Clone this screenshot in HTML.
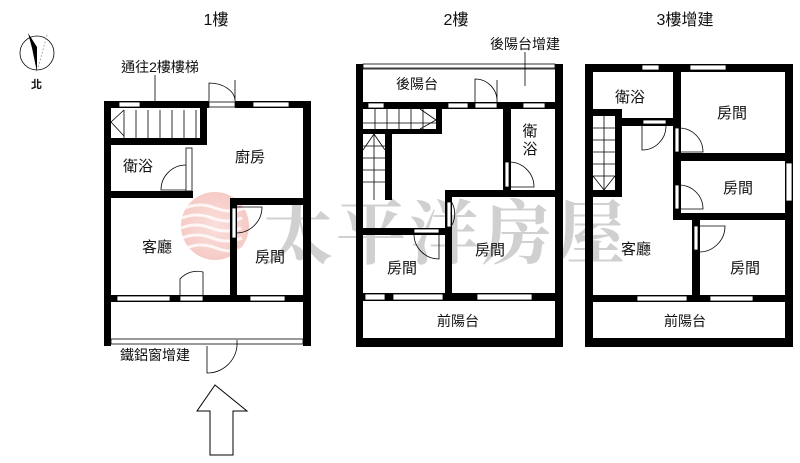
<!DOCTYPE html>
<html><head><meta charset="utf-8"><style>
html,body{margin:0;padding:0;background:#fff;}
svg{display:block}
text{font-family:"Liberation Sans","Noto Sans CJK TC",sans-serif;fill:#111;}
</style></head><body>
<svg width="800" height="463" viewBox="0 0 800 463" xmlns="http://www.w3.org/2000/svg">
<defs><radialGradient id="lg" cx="0.5" cy="0.5" r="0.5"><stop offset="0" stop-color="#f6c9c4"/><stop offset="1" stop-color="#f0a8a0"/></radialGradient></defs>
<circle cx="215" cy="226" r="34" fill="url(#lg)" opacity="0.6"/>
<g stroke="#fff" stroke-width="3" fill="none" opacity="0.8">
<path d="M185 208 q15 -6 30 0 t30 0"/><path d="M182 218 q15 -6 30 0 t30 0"/><path d="M181 228 q15 -6 30 0 t30 0"/><path d="M182 238 q15 -6 30 0 t30 0"/><path d="M186 248 q15 -6 30 0 t30 0"/>
</g>
<text x="263" y="258" font-size="70" style="font-family:'Noto Serif CJK SC',serif;font-weight:bold;fill:#c8c8c8" opacity="0.85" textLength="362">太平洋房屋</text>

<g fill="#000">
<rect x="104" y="101" width="7" height="245"/>
<rect x="303" y="101" width="8" height="245"/>
<rect x="104" y="101" width="105" height="7"/>
<rect x="235" y="101" width="76" height="7"/>
<rect x="104" y="138" width="103" height="7"/>
<rect x="200" y="101" width="7" height="44"/>
<rect x="104" y="191" width="89" height="7"/>
<rect x="230" y="198" width="81" height="7"/>
<rect x="230" y="198" width="7" height="97"/>
<rect x="104" y="295" width="207" height="7"/>
<rect x="356" y="64" width="7" height="283"/>
<rect x="555" y="64" width="8" height="283"/>
<rect x="356" y="338" width="207" height="9"/>
<rect x="356" y="102" width="207" height="7"/>
<rect x="356" y="293" width="207" height="8"/>
<rect x="436" y="109" width="6" height="23"/>
<rect x="363" y="129" width="79" height="5"/>
<rect x="385" y="134" width="7" height="66"/>
<rect x="503" y="109" width="8" height="88"/>
<rect x="445" y="190" width="110" height="7"/>
<rect x="445" y="190" width="7" height="103"/>
<rect x="363" y="228" width="89" height="7"/>
<rect x="585" y="64" width="8" height="283"/>
<rect x="785" y="64" width="8" height="283"/>
<rect x="585" y="64" width="208" height="8"/>
<rect x="585" y="338" width="208" height="9"/>
<rect x="585" y="295" width="208" height="7"/>
<rect x="673" y="64" width="8" height="156"/>
<rect x="615" y="118" width="66" height="8"/>
<rect x="585" y="109" width="37" height="7"/>
<rect x="615" y="109" width="7" height="88"/>
<rect x="585" y="190" width="37" height="7"/>
<rect x="681" y="153" width="104" height="8"/>
<rect x="673" y="213" width="112" height="7"/>
<rect x="692" y="220" width="8" height="75"/>
</g>

<g fill="#fff" stroke="#000" stroke-width="0.8">
<rect x="119" y="102" width="21" height="5"/>
<rect x="253" y="102" width="36" height="5"/>
<rect x="209" y="102" width="26" height="5"/>
<rect x="117" y="296" width="53" height="5"/>
<rect x="180" y="296" width="23" height="5"/>
<rect x="250" y="296" width="35" height="5"/>
<rect x="111" y="339" width="192" height="5"/>
<rect x="186" y="148" width="6" height="43"/>
<rect x="232" y="208" width="4" height="30"/>
<rect x="363" y="64" width="192" height="5"/>
<rect x="368" y="103" width="16" height="5"/>
<rect x="448" y="103" width="20" height="5"/>
<rect x="475" y="103" width="22" height="5"/>
<rect x="523" y="103" width="22" height="5"/>
<rect x="365" y="294" width="20" height="6"/>
<rect x="393" y="294" width="50" height="6"/>
<rect x="477" y="294" width="55" height="6"/>
<rect x="414" y="229" width="25" height="4"/>
<rect x="505" y="162" width="4" height="25"/>
<rect x="447" y="202" width="4" height="25"/>
<rect x="642" y="65" width="17" height="5"/>
<rect x="690" y="65" width="36" height="5"/>
<rect x="643" y="120" width="23" height="4"/>
<rect x="675" y="128" width="4" height="24"/>
<rect x="675" y="185" width="4" height="24"/>
<rect x="694" y="226" width="4" height="24"/>
<rect x="786" y="163" width="6" height="38"/>
<rect x="637" y="296" width="50" height="5"/>
<rect x="710" y="296" width="43" height="5"/>
</g>

<g fill="none" stroke="#000" stroke-width="0.8">
<path d="M209 101 V83 A26 18 0 0 1 235 101 V80"/>
<path d="M186 190 H161 A25 25 0 0 1 186 165"/>
<path d="M236 207 H262 A26 26 0 0 1 236 233"/>
<path d="M180 295 V279 A23 23 0 0 1 203 272 V295"/>
<path d="M207 346 V373 A30 30 0 0 0 237 346 V340"/>
<path d="M111 122 L124 110 M111 122 L124 136"/>
<path d="M124 110 V138 M136 110 V138 M148 110 V138 M160 110 V138 M172 110 V138 M184 110 V138 M196 110 V138"/>
<line x1="155" y1="75" x2="155" y2="101"/>
<path d="M475 102 V79 A22 22 0 0 1 497 102 V80"/>
<line x1="525" y1="52" x2="525" y2="86"/>
<path d="M363 68 H555"/>
<path d="M509 162 A25 25 0 0 1 534 187 H509"/>
<path d="M451 201 A24 24 0 0 1 452 225"/>
<path d="M414 233 A25 25 0 0 0 439 259 V233"/>
<path d="M363 123 H436 M375 109 V129 M387 109 V129 M399 109 V129 M411 109 V129 M423 109 V129 M420 109 L436 120 L420 129"/>
<path d="M363 146 H385 M363 158 H385 M363 170 H385 M363 182 H385 M374 134 V200 M363 150 L374 134 L385 150"/>
<path d="M642 126 V150 A24 24 0 0 0 666 126"/>
<path d="M679 128 A24 24 0 0 1 703 152 H679"/>
<path d="M679 185 A24 24 0 0 1 703 209 H679"/>
<path d="M698 226 H725 A26 26 0 0 1 698 252"/>
<path d="M593 128 H615 M593 140 H615 M593 152 H615 M593 164 H615 M593 176 H615 M604 116 V190 M593 176 L604 190 L615 176"/>
<path d="M215 385 L247 411 H233 V455 H210 V411 H197 Z" stroke-width="1"/>
<circle cx="37" cy="53" r="17"/>
<path d="M47 35 L37 72" stroke-dasharray="1.5 2" stroke="#888"/>
</g>
<path d="M28 33 L37 47 L37 72 L32 48 Z" fill="#000"/>
<text x="31" y="88" font-size="11" font-weight="bold">北</text>

<g font-size="15" text-anchor="middle">
<text x="216" y="25" font-size="16">1樓</text>
<text x="456" y="25" font-size="16">2樓</text>
<text x="685" y="25" font-size="16">3樓增建</text>
<text x="160" y="72" font-size="14">通往2樓樓梯</text>
<text x="250" y="162">廚房</text>
<text x="138" y="171">衛浴</text>
<text x="157" y="252">客廳</text>
<text x="270" y="262">房間</text>
<text x="155" y="360" font-size="14">鐵鋁窗增建</text>
<text x="525" y="49" font-size="14">後陽台增建</text>
<text x="417" y="89" font-size="14">後陽台</text>
<text x="530" y="136">衛</text>
<text x="530" y="154">浴</text>
<text x="490" y="255">房間</text>
<text x="402" y="273">房間</text>
<text x="458" y="326" font-size="14">前陽台</text>
<text x="630" y="102">衛浴</text>
<text x="732" y="118">房間</text>
<text x="738" y="193">房間</text>
<text x="636" y="254">客廳</text>
<text x="745" y="273">房間</text>
<text x="685" y="326" font-size="14">前陽台</text>
</g>
</svg>
</body></html>
